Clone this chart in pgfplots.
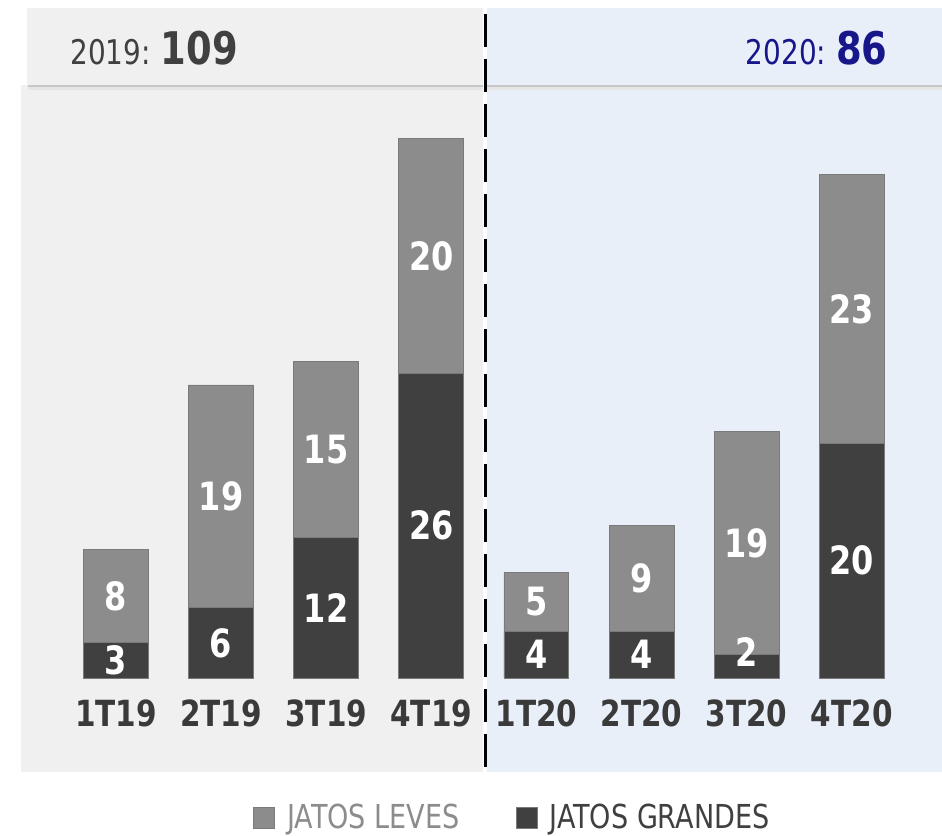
\documentclass[border=0pt]{standalone}
\usepackage{pgfplots}
\pgfplotsset{compat=1.18}
\usepackage{pgfplotstable}
\usepackage{fontspec}
\setmainfont{DejaVu Sans}[FakeStretch=0.82]

\definecolor{grandes}{HTML}{404040}
\definecolor{leves}{HTML}{8C8C8C}
\definecolor{edge}{HTML}{7A7A7A}
\definecolor{panelL}{HTML}{F0F0F0}
\definecolor{panelR}{HTML}{E9EFF9}
\definecolor{navy}{HTML}{17178A}
\definecolor{txt}{HTML}{3A3A3A}

% quarterly deliveries: g = jatos grandes, l = jatos leves
\pgfplotstableread{
x g l
0 3 8
1 6 19
2 12 15
3 26 20
4 4 5
5 4 9
6 2 19
7 20 23
}\bars

% value labels, y = middle of each segment
\pgfplotstableread{
x y v
0 1.5 3
0 7 8
1 3 6
1 15.5 19
2 6 12
2 19.5 15
3 13 26
3 36 20
4 2 4
4 6.5 5
5 2 4
5 8.5 9
6 2.2 2
6 11.5 19
7 10 20
7 31.5 23
}\labels

\pgfplotsset{frame/.style={width=471pt, height=415.5pt, scale only axis,
  xmin=-1.1037, xmax=7.8592, ymin=-13.055, ymax=57.850}}

\begin{document}
\begin{tikzpicture}
% background panels and header boxes
\begin{axis}[frame, hide axis, clip=false]
\fill[panelL] (rel axis cs:0.02229,0.071) rectangle (rel axis cs:0.51274,0.8977);
\fill[panelR] (rel axis cs:0.51699,0.071) rectangle (rel axis cs:1,0.8977);
\fill[black!10] (rel axis cs:0.0300,0.8917) rectangle (rel axis cs:0.51274,0.8977);
\fill[black!10] (rel axis cs:0.51699,0.8917) rectangle (rel axis cs:1,0.8977);
\fill[black!22] (rel axis cs:0.0295,0.8947) rectangle (rel axis cs:0.51274,0.8977);
\fill[black!22] (rel axis cs:0.51699,0.8947) rectangle (rel axis cs:1,0.8977);
\fill[panelL] (rel axis cs:0.02866,0.8977) rectangle (rel axis cs:0.51274,0.99037);
\fill[panelR] (rel axis cs:0.51699,0.8977) rectangle (rel axis cs:1,0.99037);
\draw[black, line width=1.5pt, dash pattern=on 16.5pt off 6pt, dash phase=19.5pt]
  (rel axis cs:0.51592,0.99037) -- (rel axis cs:0.51592,0.071);
\end{axis}

\begin{axis}[frame, clip=false,
  ybar stacked, bar width=0.618,
  axis line style={draw=none}, tick style={draw=none},
  ytick=\empty, xtick={0,...,7},
  xticklabels={1T19,2T19,3T19,4T19,1T20,2T20,3T20,4T20},
  xticklabel style={font=\bfseries\fontsize{18}{18}\selectfont, text=txt,
    anchor=base, yshift=52pt},
  legend columns=2, reverse legend,
  legend style={at={(rel axis cs:0.5451,0.0156)}, anchor=center,
    draw=none, fill=none, inner sep=0pt,
    font=\fontsize{16.5}{16.5}\selectfont,
    /tikz/every odd column/.append style={column sep=4pt},
    /tikz/every even column/.append style={column sep=26pt}},
  legend image code/.code={\fill[#1] (0pt,-5.25pt) rectangle (10.5pt,5.25pt);},
]
\addplot[fill=grandes, draw=edge, line width=0.4pt] table[x=x, y=g] {\bars};
\addlegendentry{\textcolor{grandes}{JATOS GRANDES}}
\addplot[fill=leves, draw=edge, line width=0.4pt] table[x=x, y=l] {\bars};
\addlegendentry{\textcolor{leves}{JATOS LEVES}}
\end{axis}

\begin{axis}[frame, hide axis, clip=false]
\addplot[draw=none, nodes near coords, point meta=explicit symbolic,
  every node near coord/.append style={anchor=center, text=white, inner sep=0pt,
    font=\bfseries\fontsize{19.5}{19.5}\selectfont}]
  table[x=x, y=y, meta=v] {\labels};
\node[anchor=base west, text=grandes, inner sep=0pt] at (rel axis cs:0.0743,0.9218)
  {\fontsize{17}{17}\selectfont 2019:\hspace{5pt}\bfseries\fontsize{22.5}{22.5}\selectfont 109};
\node[anchor=base east, text=navy, inner sep=0pt] at (rel axis cs:0.9427,0.9218)
  {\fontsize{17}{17}\selectfont 2020:\hspace{5pt}\bfseries\fontsize{22.5}{22.5}\selectfont 86};
\end{axis}
\end{tikzpicture}
\end{document}
